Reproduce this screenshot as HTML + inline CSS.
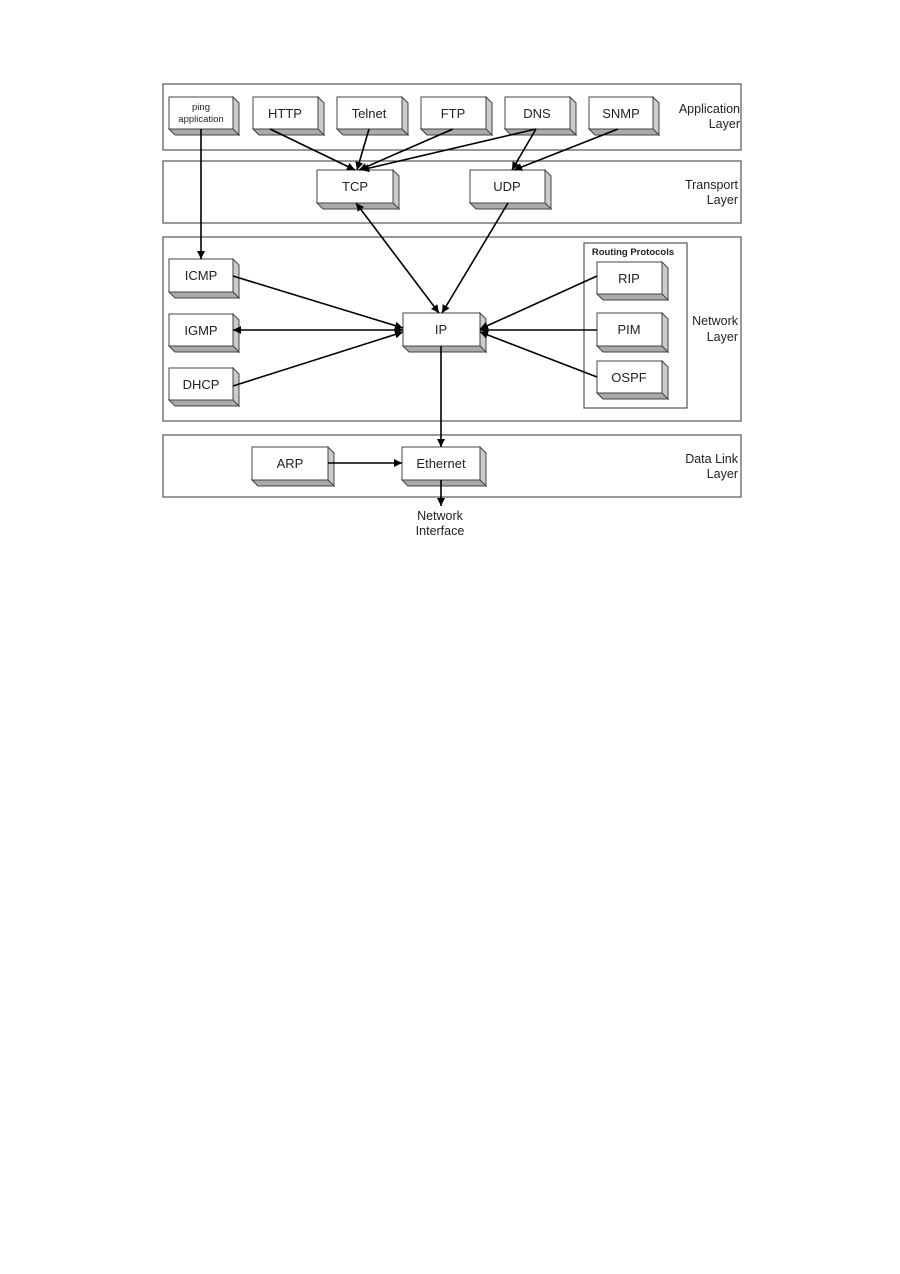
<!DOCTYPE html>
<html><head><meta charset="utf-8"><style>
html,body{margin:0;padding:0;background:#fff}
svg{display:block}
text{font-family:"Liberation Sans",Arial,sans-serif;fill:#222}
</style></head><body>
<svg width="900" height="1274" viewBox="0 0 900 1274" xmlns="http://www.w3.org/2000/svg">
<defs>
<marker id="a" viewBox="0 0 10 10" refX="10" refY="5" markerWidth="9" markerHeight="8" orient="auto-start-reverse" markerUnits="userSpaceOnUse"><path d="M0,0 L10,5 L0,10 z" fill="#000"/></marker>
<g id="b"></g>
</defs>
<g fill="none" stroke="#555" stroke-width="1.2">
<rect x="163" y="84" width="578" height="66"/>
<rect x="163" y="161" width="578" height="62"/>
<rect x="163" y="237" width="578" height="184"/>
<rect x="163" y="435" width="578" height="62"/>
<rect x="584" y="243" width="103" height="165"/>
</g>
<g font-size="12.5" text-anchor="end">
<text x="740" y="113">Application</text><text x="740" y="128">Layer</text>
<text x="738" y="189">Transport</text><text x="738" y="204">Layer</text>
<text x="738" y="325">Network</text><text x="738" y="341">Layer</text>
<text x="738" y="463">Data Link</text><text x="738" y="478">Layer</text>
</g>
<text x="633" y="255" font-size="9.5" font-weight="bold" text-anchor="middle">Routing Protocols</text>
<text x="440" y="520" font-size="12.5" text-anchor="middle">Network</text>
<text x="440" y="535" font-size="12.5" text-anchor="middle">Interface</text>
<!-- boxes -->
<g stroke="#444" stroke-width="1">
<!-- function: front x,y,w,h ; extrusion 6,6 -->
<g id="boxes"></g>
</g>
<g stroke="#444" stroke-width="1" font-size="13">
<!-- ping -->
<path d="M233,97 l6,6 v32 l-6,-6z" fill="#ccc"/><path d="M169,129 l6,6 h64 l-6,-6z" fill="#aaa"/><rect x="169" y="97" width="64" height="32" fill="#fff"/>
<path d="M318,97 l6,6 v32 l-6,-6z" fill="#ccc"/><path d="M253,129 l6,6 h65 l-6,-6z" fill="#aaa"/><rect x="253" y="97" width="65" height="32" fill="#fff"/>
<path d="M402,97 l6,6 v32 l-6,-6z" fill="#ccc"/><path d="M337,129 l6,6 h65 l-6,-6z" fill="#aaa"/><rect x="337" y="97" width="65" height="32" fill="#fff"/>
<path d="M486,97 l6,6 v32 l-6,-6z" fill="#ccc"/><path d="M421,129 l6,6 h65 l-6,-6z" fill="#aaa"/><rect x="421" y="97" width="65" height="32" fill="#fff"/>
<path d="M570,97 l6,6 v32 l-6,-6z" fill="#ccc"/><path d="M505,129 l6,6 h65 l-6,-6z" fill="#aaa"/><rect x="505" y="97" width="65" height="32" fill="#fff"/>
<path d="M653,97 l6,6 v32 l-6,-6z" fill="#ccc"/><path d="M589,129 l6,6 h64 l-6,-6z" fill="#aaa"/><rect x="589" y="97" width="64" height="32" fill="#fff"/>
<!-- TCP UDP -->
<path d="M393,170 l6,6 v33 l-6,-6z" fill="#ccc"/><path d="M317,203 l6,6 h76 l-6,-6z" fill="#aaa"/><rect x="317" y="170" width="76" height="33" fill="#fff"/>
<path d="M545,170 l6,6 v33 l-6,-6z" fill="#ccc"/><path d="M470,203 l6,6 h75 l-6,-6z" fill="#aaa"/><rect x="470" y="170" width="75" height="33" fill="#fff"/>
<!-- ICMP IGMP DHCP -->
<path d="M233,259 l6,6 v33 l-6,-6z" fill="#ccc"/><path d="M169,292 l6,6 h64 l-6,-6z" fill="#aaa"/><rect x="169" y="259" width="64" height="33" fill="#fff"/>
<path d="M233,314 l6,6 v32 l-6,-6z" fill="#ccc"/><path d="M169,346 l6,6 h64 l-6,-6z" fill="#aaa"/><rect x="169" y="314" width="64" height="32" fill="#fff"/>
<path d="M233,368 l6,6 v32 l-6,-6z" fill="#ccc"/><path d="M169,400 l6,6 h64 l-6,-6z" fill="#aaa"/><rect x="169" y="368" width="64" height="32" fill="#fff"/>
<!-- IP -->
<path d="M480,313 l6,6 v33 l-6,-6z" fill="#ccc"/><path d="M403,346 l6,6 h77 l-6,-6z" fill="#aaa"/><rect x="403" y="313" width="77" height="33" fill="#fff"/>
<!-- RIP PIM OSPF -->
<path d="M662,262 l6,6 v32 l-6,-6z" fill="#ccc"/><path d="M597,294 l6,6 h65 l-6,-6z" fill="#aaa"/><rect x="597" y="262" width="65" height="32" fill="#fff"/>
<path d="M662,313 l6,6 v33 l-6,-6z" fill="#ccc"/><path d="M597,346 l6,6 h65 l-6,-6z" fill="#aaa"/><rect x="597" y="313" width="65" height="33" fill="#fff"/>
<path d="M662,361 l6,6 v32 l-6,-6z" fill="#ccc"/><path d="M597,393 l6,6 h65 l-6,-6z" fill="#aaa"/><rect x="597" y="361" width="65" height="32" fill="#fff"/>
<!-- ARP Ethernet -->
<path d="M328,447 l6,6 v33 l-6,-6z" fill="#ccc"/><path d="M252,480 l6,6 h76 l-6,-6z" fill="#aaa"/><rect x="252" y="447" width="76" height="33" fill="#fff"/>
<path d="M480,447 l6,6 v33 l-6,-6z" fill="#ccc"/><path d="M402,480 l6,6 h78 l-6,-6z" fill="#aaa"/><rect x="402" y="447" width="78" height="33" fill="#fff"/>
</g>
<g font-size="13" text-anchor="middle">
<text x="201" y="110" font-size="9.5">ping</text><text x="201" y="122" font-size="9.5">application</text>
<text x="285" y="118">HTTP</text><text x="369" y="118">Telnet</text><text x="453" y="118">FTP</text>
<text x="537" y="118">DNS</text><text x="621" y="118">SNMP</text>
<text x="355" y="191">TCP</text><text x="507" y="191">UDP</text>
<text x="201" y="280">ICMP</text><text x="201" y="335">IGMP</text><text x="201" y="389">DHCP</text>
<text x="441" y="334">IP</text>
<text x="629" y="283">RIP</text><text x="629" y="334">PIM</text><text x="629" y="382">OSPF</text>
<text x="290" y="468">ARP</text><text x="441" y="468">Ethernet</text>
</g>
<g stroke="#000" stroke-width="1.6" fill="none">
<line x1="201" y1="129" x2="201" y2="259" marker-end="url(#a)"/>
<line x1="270" y1="129" x2="355" y2="170" marker-end="url(#a)"/>
<line x1="369" y1="129" x2="357" y2="170" marker-end="url(#a)"/>
<line x1="453" y1="129" x2="359" y2="170" marker-end="url(#a)"/>
<line x1="536" y1="129" x2="361" y2="170" marker-end="url(#a)"/>
<line x1="536" y1="129" x2="512" y2="170" marker-end="url(#a)"/>
<line x1="618" y1="129" x2="514" y2="170" marker-end="url(#a)"/>
<line x1="356" y1="203" x2="439" y2="313" marker-start="url(#a)" marker-end="url(#a)"/>
<line x1="508" y1="203" x2="442" y2="313" marker-end="url(#a)"/>
<line x1="233" y1="276" x2="403" y2="328" marker-end="url(#a)"/>
<line x1="233" y1="330" x2="403" y2="330" marker-start="url(#a)" marker-end="url(#a)"/>
<line x1="233" y1="386" x2="403" y2="332" marker-end="url(#a)"/>
<line x1="597" y1="276" x2="480" y2="329" marker-end="url(#a)"/>
<line x1="597" y1="330" x2="480" y2="330" marker-end="url(#a)"/>
<line x1="597" y1="377" x2="480" y2="332" marker-end="url(#a)"/>
<line x1="441" y1="346" x2="441" y2="447" marker-end="url(#a)"/>
<line x1="328" y1="463" x2="402" y2="463" marker-end="url(#a)"/>
<line x1="441" y1="480" x2="441" y2="506" marker-end="url(#a)"/>
</g>
</svg>
</body></html>
